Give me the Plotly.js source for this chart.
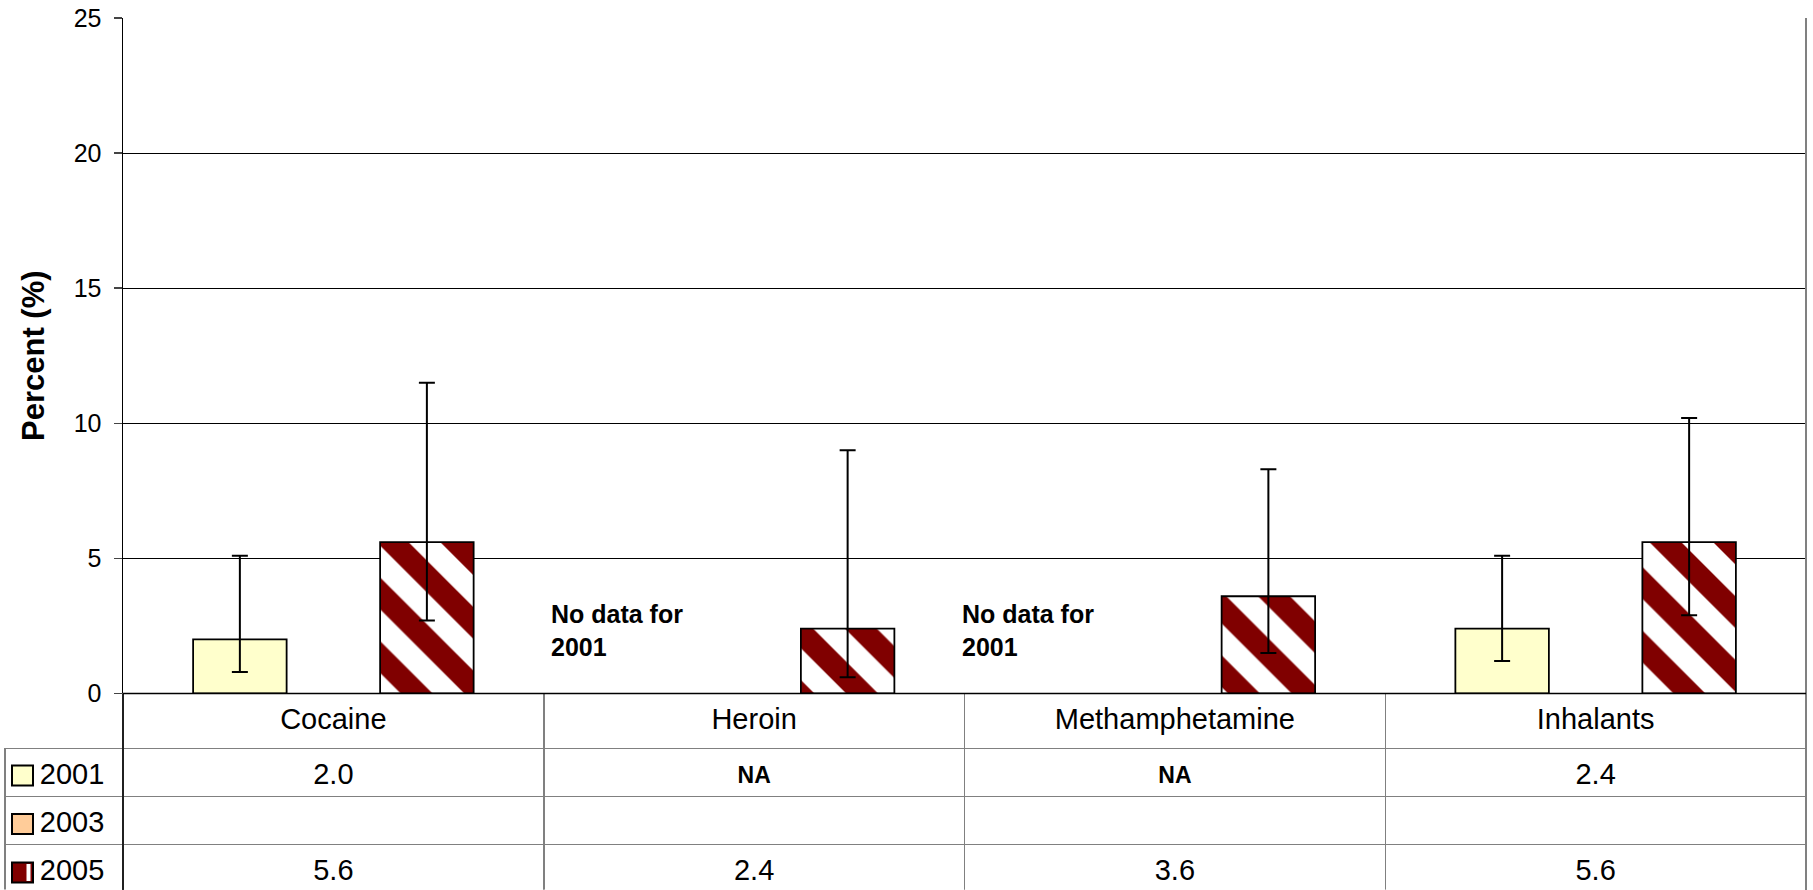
<!DOCTYPE html>
<html>
<head>
<meta charset="utf-8">
<script src="https://cdn.plot.ly/plotly-3.0.1.min.js"></script>
<style>
  html, body { margin: 0; padding: 0; background: #ffffff; }
  #chart { width: 1813px; height: 890px; }
  /* centre table text a little lower inside its rows */
  #chart .table .cell-text { transform: translateY(6px); }
  #chart .table .cell-text[style*="font-size: 23px"] { transform: translateY(9px); }
</style>
</head>
<body>
<div id="chart"></div>
<script>
// ---------------- data ----------------
const categories = ["Cocaine", "Heroin", "Methamphetamine", "Inhalants"];
const years = ["2001", "2003", "2005"];
const values2001 = [2.0, null, null, 2.4];
const values2003 = [null, null, null, null];
const values2005 = [5.6, 2.4, 3.6, 5.6];
const upper2001 = [5.1, null, null, 5.1];
const lower2001 = [0.8, null, null, 1.2];
const upper2005 = [11.5, 9.0, 8.3, 10.2];
const lower2005 = [2.7, 0.6, 1.5, 2.9];
const tableText2001 = ["2.0", "NA", "NA", "2.4"];
const tableText2003 = ["", "", "", ""];
const tableText2005 = ["5.6", "2.4", "3.6", "5.6"];
const noDataNote = "No data for<br>2001";
const yTickValues = [0, 5, 10, 15, 20, 25];

// ---------------- helpers ----------------
const FONT = "Liberation Sans, Arial, Helvetica, sans-serif";
const W = 1813, H = 890;
const M = { l: 5, r: 7, t: 18, b: 0 };
const paperW = W - M.l - M.r, paperH = H - M.t - M.b;
const px2x = px => (px - M.l) / paperW;
const py2y = py => (H - M.b - py) / paperH;
const plotLeftPx = 123, plotBottomPx = 693.5;
const xDomStart = px2x(plotLeftPx);
const yDomBottom = py2y(plotBottomPx);

function errPlus(v, u) { return v.map((d, i) => (d == null || u[i] == null) ? null : +(u[i] - d).toFixed(3)); }
function errMinus(v, l) { return v.map((d, i) => (d == null || l[i] == null) ? null : +(d - l[i]).toFixed(3)); }

const col2001 = "#FFFFCC", col2003 = "#FFCC99", col2005 = "#800000";

const errStyle = { type: "data", symmetric: false, color: "#000", thickness: 2, width: 8, visible: true };

const tr2001 = {
  type: "bar", name: years[0], x: categories, y: values2001,
  marker: { color: col2001, line: { color: "#000", width: 1.8 } },
  error_y: Object.assign({}, errStyle, { array: errPlus(values2001, upper2001), arrayminus: errMinus(values2001, lower2001) }),
  xaxis: "x", yaxis: "y", showlegend: false
};
const tr2003 = {
  type: "bar", name: years[1], x: categories, y: values2003,
  marker: { color: col2003, line: { color: "#000", width: 1.8 } },
  xaxis: "x", yaxis: "y", showlegend: false
};
const tr2005 = {
  type: "bar", name: years[2], x: categories, y: values2005,
  marker: {
    color: "#ffffff", line: { color: "#000", width: 1.8 },
    pattern: { shape: "\\", fgcolor: col2005, bgcolor: "#ffffff", size: 45, solidity: 0.5, fillmode: "replace" }
  },
  error_y: Object.assign({}, errStyle, { array: errPlus(values2005, upper2005), arrayminus: errMinus(values2005, lower2005) }),
  xaxis: "x", yaxis: "y", showlegend: false
};

// table
const isNA = t => t === "NA";
const yearCol = years.map(y => "\u00a0\u00a0" + y);
const rowsText = [tableText2001, tableText2003, tableText2005];
const cellCols = [yearCol].concat(categories.map((c, i) => rowsText.map(r => r[i])));
const cellSizes = [years.map(() => 29)].concat(categories.map((c, i) => rowsText.map(r => isNA(r[i]) ? 23 : 29)));
const cellWeights = [years.map(() => "normal")].concat(categories.map((c, i) => rowsText.map(r => isNA(r[i]) ? "bold" : "normal")));
const colW = (W - M.r - plotLeftPx) / categories.length;
const clear = "rgba(0,0,0,0)";

const table = {
  type: "table",
  domain: { x: [0, 1], y: [0, yDomBottom] },
  columnwidth: [plotLeftPx - M.l].concat(categories.map(() => colW)),
  header: {
    values: [""].concat(categories),
    height: 55,
    align: "center",
    fill: { color: [clear].concat(categories.map(() => "#ffffff")) },
    line: { color: [clear].concat(categories.map(() => "#808080")), width: 1.5 },
    font: { family: FONT, size: 29, color: "#000" }
  },
  cells: {
    values: cellCols,
    height: 48,
    align: "center",
    fill: { color: "#ffffff" },
    line: { color: "#808080", width: 1.5 },
    font: { family: FONT, size: cellSizes, weight: cellWeights, color: "#000" }
  }
};

// annotations for missing 2001 data
const noteShift = { 1: 5, 2: -5 };
const annotations = [];
values2001.forEach((v, i) => {
  if (v == null) {
    annotations.push({
      xref: "x", yref: "y", x: i - 0.5, y: 2.35, xshift: noteShift[i] || 0,
      xanchor: "left", yanchor: "middle", align: "left", showarrow: false,
      text: "<b>" + noDataNote + "</b>",
      font: { family: FONT, size: 25, color: "#000" }
    });
  }
});

// legend keys inside the table's first column
const rowTops = [746, 794.5, 843];
const keyFills = [col2001, col2003, col2005];
const shapes = [];
rowTops.forEach((top, i) => {
  shapes.push({
    type: "rect", xref: "paper", yref: "paper", layer: "above",
    x0: px2x(12), x1: px2x(33), y0: py2y(top + 19.5), y1: py2y(top + 39.5),
    fillcolor: keyFills[i], line: { color: "#000", width: 2 }
  });
});
shapes.push({
  type: "rect", xref: "paper", yref: "paper", layer: "above",
  x0: px2x(26.5), x1: px2x(30.5), y0: py2y(rowTops[2] + 21), y1: py2y(rowTops[2] + 38),
  fillcolor: "#ffffff", line: { width: 0 }
});
// frame lines
shapes.push({ type: "line", xref: "x domain", yref: "paper", x0: 1, x1: 1, y0: 0, y1: 1, layer: "above",
  line: { color: "#808080", width: 2 } });
shapes.push({ type: "line", xref: "x domain", yref: "paper", x0: 0, x1: 0, y0: 0, y1: yDomBottom, layer: "above",
  line: { color: "#000", width: 1.5 } });
shapes.push({ type: "line", xref: "x domain", yref: "y domain", x0: 0, x1: 1, y0: 0, y1: 0, layer: "above",
  line: { color: "#000", width: 1.5 } });

const layout = {
  width: W, height: H,
  margin: M,
  paper_bgcolor: "#ffffff", plot_bgcolor: "#ffffff",
  barmode: "group", bargap: 0.3333, bargroupgap: 0,
  showlegend: false,
  font: { family: FONT, color: "#000" },
  xaxis: {
    type: "category", categoryorder: "array", categoryarray: categories,
    domain: [xDomStart, 1], range: [-0.5, categories.length - 0.5],
    showticklabels: false, ticks: "", showgrid: false, zeroline: false,
    showline: true, linecolor: "#000", linewidth: 1.5, fixedrange: true
  },
  yaxis: {
    domain: [yDomBottom, 1], range: [0, 25],
    tickmode: "array", tickvals: yTickValues, ticktext: yTickValues.map(String),
    ticks: "outside", ticklen: 8, tickwidth: 1.5, tickcolor: "#444",
    ticklabelstandoff: 7,
    tickfont: { family: FONT, size: 25, color: "#000" },
    showgrid: true, gridcolor: "#000", gridwidth: 1,
    zeroline: false, showline: true, linecolor: "#000", linewidth: 1.5,
    title: { text: "<b>Percent (%)</b>", font: { family: FONT, size: 31, color: "#000" }, standoff: 20 },
    fixedrange: true
  },
  annotations: annotations,
  shapes: shapes
};

Plotly.newPlot("chart", [tr2001, tr2003, tr2005, table], layout, { staticPlot: true, displayModeBar: false });
</script>
</body>
</html>
